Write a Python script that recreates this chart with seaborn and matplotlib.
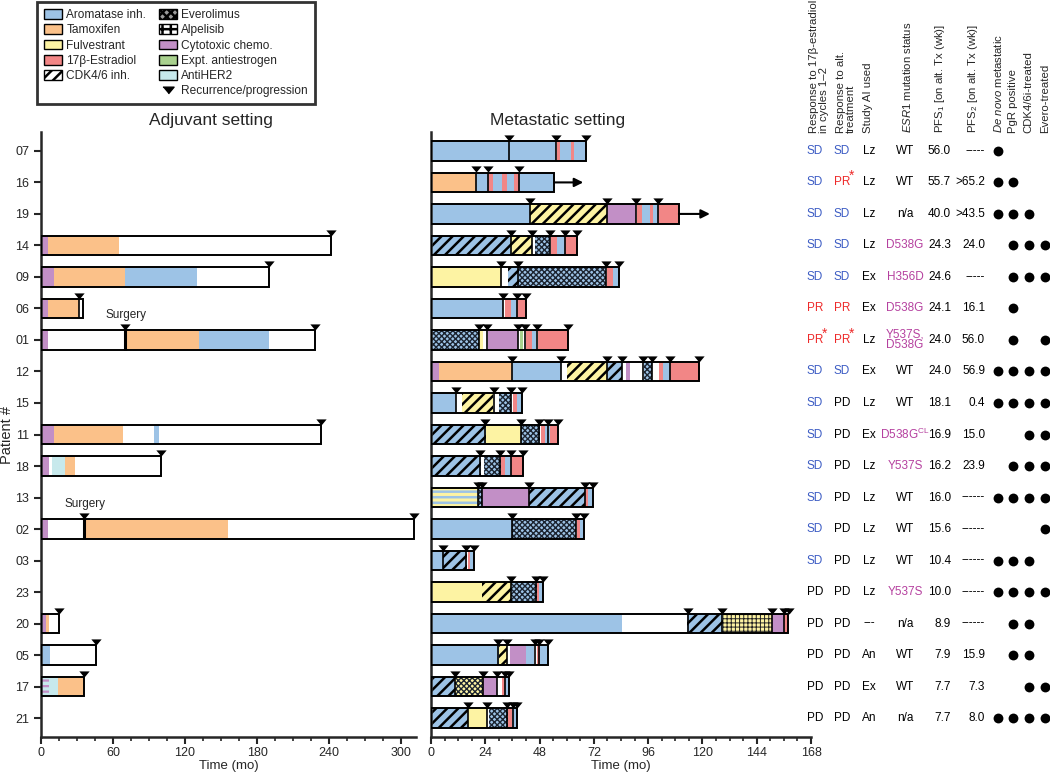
import matplotlib
matplotlib.use("Agg")
import matplotlib.pyplot as plt
import matplotlib.transforms as mtransforms
from matplotlib.patches import Patch
from matplotlib.lines import Line2D
from matplotlib.ticker import MultipleLocator
import seaborn as sns

# ---------------------------------------------------------------- data
patients = ['07', '16', '19', '14', '09', '06', '01', '12', '15', '11',
            '18', '13', '02', '03', '23', '20', '05', '17', '21']

# adjuvant treatment segments (start mo, end mo, treatment)
adjuvant = {
    '14': [(0, 6, 'CHE'), (6, 64.6, 'TAM'), (64.6, 242, 'W')],
    '09': [(0, 10.5, 'CHE'), (10.5, 70, 'TAM'), (70, 130, 'AI'), (130, 190, 'W')],
    '06': [(0, 6, 'CHE'), (6, 32, 'TAM'), (32, 35, 'W')],
    '01': [(0, 5.5, 'CHE'), (5.5, 70, 'W'), (70, 132, 'TAM'), (132, 190, 'AI'), (190, 228, 'W')],
    '11': [(0, 10.8, 'CHE'), (10.8, 68, 'TAM'), (68, 94, 'W'), (94, 98, 'AI'), (98, 233, 'W')],
    '18': [(0, 7, 'CHE'), (7, 9.5, 'W'), (9.5, 20, 'HER'), (20, 28, 'TAM'), (28, 100, 'W')],
    '02': [(0, 5.5, 'CHE'), (5.5, 36, 'W'), (36, 156, 'TAM'), (156, 311, 'W')],
    '20': [(0, 4, 'CHE'), (4, 6.5, 'TAM'), (6.5, 15, 'W')],
    '05': [(0, 7.5, 'AI'), (7.5, 45.5, 'W')],
    '17': [(0, 7, 'HER+CHE'), (7, 14, 'HER'), (14, 35.5, 'TAM')],
}
adjuvant_events = {
    '14': [242], '09': [190], '06': [32], '01': [70, 228], '11': [233],
    '18': [100], '02': [36, 311], '20': [15], '05': [45.5], '17': [35.5],
}
surgery = {'01': 70, '02': 36}

# metastatic treatment segments (start mo, end mo, treatment)
metastatic = {
    '07': [(0, 55.1, 'AI'), (55.1, 55.9, 'W'), (55.9, 57.0, 'E2'), (57.0, 61.7, 'AI'),
           (61.7, 63.4, 'E2'), (63.4, 68.4, 'AI')],
    '16': [(0, 19.7, 'TAM'), (19.7, 25.3, 'AI'), (25.3, 27.4, 'E2'), (27.4, 31.5, 'AI'),
           (31.5, 33.7, 'E2'), (33.7, 36.8, 'AI'), (36.8, 39.0, 'E2'), (39.0, 54.5, 'AI')],
    '19': [(0, 43.8, 'AI'), (43.8, 77.7, 'FUL+CDK'), (77.7, 90.6, 'CHE'), (90.6, 91.2, 'W'),
           (91.2, 93.1, 'E2'), (93.1, 96.8, 'AI'), (96.8, 98.3, 'E2'), (98.3, 100.2, 'AI'),
           (100.2, 109.6, 'E2')],
    '14': [(0, 35.4, 'AI+CDK'), (35.4, 44.8, 'FUL+CDK'), (44.8, 46.0, 'W'), (46.0, 52.5, 'AI+EVE'),
           (52.5, 53.0, 'W'), (53.0, 55.6, 'E2'), (55.6, 59.3, 'AI'), (59.3, 64.6, 'E2')],
    '09': [(0, 30.8, 'FUL'), (30.8, 34.2, 'W'), (34.2, 39.0, 'AI+CDK'), (39.0, 77.2, 'AI+EVE'),
           (77.2, 77.6, 'W'), (77.6, 80.4, 'E2'), (80.4, 83.3, 'AI')],
    '06': [(0, 32.0, 'AI'), (32.0, 32.7, 'W'), (32.7, 35.2, 'E2'), (35.2, 38.2, 'AI'),
           (38.2, 42.0, 'E2')],
    '01': [(0, 21.4, 'AI+EVE'), (21.4, 22.8, 'FUL'), (22.8, 25.0, 'W'), (25.0, 38.5, 'CHE'),
           (38.5, 39.5, 'W'), (39.5, 40.8, 'EXP'), (40.8, 42.0, 'W'), (42.0, 44.5, 'E2'),
           (44.5, 46.5, 'AI'), (46.5, 47.5, 'W'), (47.5, 60.7, 'E2')],
    '12': [(0, 3.7, 'CHE'), (3.7, 35.7, 'TAM'), (35.7, 57.3, 'AI'), (57.3, 60.0, 'W'),
           (60.0, 77.7, 'FUL+CDK'), (77.7, 84.3, 'AI+CDK'), (84.3, 86.2, 'W'), (86.2, 88.0, 'CHE'),
           (88.0, 94.2, 'W'), (94.2, 97.8, 'AI+EVE'), (97.8, 100.8, 'W'), (100.8, 102.7, 'E2'),
           (102.7, 105.7, 'AI'), (105.7, 118.6, 'E2')],
    '15': [(0, 11.1, 'AI'), (11.1, 13.6, 'W'), (13.6, 27.6, 'FUL+CDK'), (27.6, 30.1, 'W'),
           (30.1, 35.4, 'AI+EVE'), (35.4, 36.1, 'W'), (36.1, 37.9, 'E2'), (37.9, 40.4, 'AI')],
    '11': [(0, 24.2, 'AI+CDK'), (24.2, 39.6, 'FUL'), (39.6, 48.2, 'AI+EVE'), (48.2, 48.5, 'W'),
           (48.5, 50.4, 'E2'), (50.4, 52.6, 'AI'), (52.6, 56.0, 'E2')],
    '18': [(0, 22.0, 'AI+CDK'), (22.0, 23.6, 'W'), (23.6, 30.8, 'AI+EVE'), (30.8, 32.7, 'E2'),
           (32.7, 35.2, 'AI'), (35.2, 40.8, 'E2')],
    '13': [(0, 20.9, 'FUL+AI'), (20.9, 22.7, 'AI+EVE'), (22.7, 43.5, 'CHE'), (43.5, 68.1, 'AI+CDK'),
           (68.1, 69.3, 'E2'), (69.3, 71.8, 'AI')],
    '02': [(0, 36.0, 'AI'), (36.0, 64.1, 'AI+EVE'), (64.1, 64.5, 'W'), (64.5, 66.0, 'E2'),
           (66.0, 67.6, 'AI')],
    '03': [(0, 5.2, 'AI'), (5.2, 15.8, 'AI+CDK'), (15.8, 16.2, 'W'), (16.2, 17.3, 'E2'),
           (17.3, 19.0, 'AI')],
    '23': [(0, 22.4, 'FUL'), (22.4, 35.2, 'FUL+CDK'), (35.2, 46.7, 'AI+EVE'), (46.7, 47.8, 'E2'),
           (47.8, 49.4, 'AI')],
    '20': [(0, 84.6, 'AI'), (84.6, 113.3, 'W'), (113.3, 129.3, 'AI+CDK'), (129.3, 150.6, 'FUL+ALP'),
           (150.6, 156.1, 'CHE'), (156.1, 158.0, 'E2')],
    '05': [(0, 30.1, 'AI'), (30.1, 33.7, 'FUL+CDK'), (33.7, 35.0, 'W'), (35.0, 42.0, 'CHE'),
           (42.0, 45.7, 'AI'), (45.7, 46.7, 'W'), (46.7, 48.2, 'E2'), (48.2, 51.9, 'AI')],
    '17': [(0, 10.6, 'AI+CDK'), (10.6, 23.1, 'FUL+EVE'), (23.1, 29.3, 'CHE'), (29.3, 31.2, 'W'),
           (31.2, 32.7, 'E2'), (32.7, 34.6, 'AI')],
    '21': [(0, 16.5, 'AI+CDK'), (16.5, 24.6, 'FUL'), (24.6, 25.8, 'W'), (25.8, 34.2, 'AI+EVE'),
           (34.2, 35.7, 'E2'), (35.7, 37.9, 'AI')],
}
metastatic_events = {
    '07': [34.5, 55.1, 68.4], '16': [20.0, 25.2, 39.0], '19': [43.8, 77.7, 90.6, 100.2],
    '14': [35.2, 44.8, 52.5, 59.3, 64.6], '09': [30.8, 38.3, 77.2, 83.3],
    '06': [32.0, 37.9, 42.0], '01': [21.4, 24.6, 38.5, 41.7, 47.0, 60.7],
    '12': [35.7, 57.3, 77.9, 84.3, 93.6, 97.8, 105.7, 118.6], '15': [11.1, 27.7, 35.3, 40.4],
    '11': [24.0, 39.6, 47.9, 51.9, 56.0], '18': [21.8, 30.5, 35.2, 40.8],
    '13': [20.9, 22.7, 43.5, 68.1, 71.8], '02': [35.7, 63.9, 67.6], '03': [5.2, 15.5, 18.9],
    '23': [35.2, 46.4, 49.6], '20': [113.5, 128.5, 150.6, 156.0, 158.2],
    '05': [29.5, 33.7, 46.0, 47.7, 51.7], '17': [10.6, 23.1, 29.3, 32.7, 34.6],
    '21': [16.3, 24.6, 33.8, 36.4, 37.9],
}
ongoing = {'16': 67.3, '19': 123.3}

# table columns (same order as patients)
resp_e2 = ['SD', 'SD', 'SD', 'SD', 'SD', 'PR', 'PR*', 'SD', 'SD', 'SD',
           'SD', 'SD', 'SD', 'SD', 'PD', 'PD', 'PD', 'PD', 'PD']
resp_alt = ['SD', 'PR*', 'SD', 'SD', 'SD', 'PR', 'PR*', 'SD', 'PD', 'PD',
            'PD', 'PD', 'PD', 'PD', 'PD', 'PD', 'PD', 'PD', 'PD']
study_ai = ['Lz', 'Lz', 'Lz', 'Lz', 'Ex', 'Ex', 'Lz', 'Ex', 'Lz', 'Ex',
            'Lz', 'Lz', 'Lz', 'Lz', 'Lz', '---', 'An', 'Ex', 'An']
esr1 = ['WT', 'WT', 'n/a', 'D538G', 'H356D', 'D538G', 'Y537S,\nD538G', 'WT', 'WT', 'D538G$^{\\rm CL}$',
        'Y537S', 'WT', 'WT', 'WT', 'Y537S', 'n/a', 'WT', 'WT', 'n/a']
pfs1 = ['56.0', '55.7', '40.0', '24.3', '24.6', '24.1', '24.0', '24.0', '18.1', '16.9',
        '16.2', '16.0', '15.6', '10.4', '10.0', '8.9', '7.9', '7.7', '7.7']
pfs2 = ['-----', '>65.2', '>43.5', '24.0', '-----', '16.1', '56.0', '56.9', '0.4', '15.0',
        '23.9', '------', '------', '------', '------', '------', '15.9', '7.3', '8.0']
de_novo = [1, 1, 1, 0, 0, 0, 0, 1, 1, 0, 0, 1, 0, 1, 1, 0, 0, 0, 1]
pgr_pos = [0, 1, 1, 1, 1, 1, 1, 1, 1, 0, 1, 1, 0, 1, 1, 1, 1, 0, 1]
cdk_treated = [0, 0, 1, 1, 1, 0, 0, 1, 1, 1, 1, 1, 0, 1, 1, 1, 1, 1, 1]
evero_treated = [0, 0, 0, 1, 1, 0, 1, 1, 1, 1, 1, 1, 1, 0, 1, 0, 0, 1, 1]

# ---------------------------------------------------------------- styling
blue, orange, yellow, red = '#9dc3e6', '#fbc189', '#fdf3a3', '#f28686'
purple, green, cyan = '#c28fc6', '#a9d18e', '#c7e9ec'

# treatment -> (face, hatch, hatch colour, hatch width)
styles = {
    'W': ('white', None, None, 0),
    'AI': (blue, None, None, 0),
    'TAM': (orange, None, None, 0),
    'FUL': (yellow, None, None, 0),
    'E2': (red, None, None, 0),
    'CHE': (purple, None, None, 0),
    'EXP': (green, None, None, 0),
    'HER': (cyan, None, None, 0),
    'AI+CDK': (blue, '///', 'black', 1.8),
    'FUL+CDK': (yellow, '///', 'black', 1.8),
    'AI+EVE': (blue, 'xxxxxx', '#1c2430', 1.0),
    'FUL+EVE': (yellow, 'xxxxxx', '#1c2430', 1.0),
    'FUL+ALP': (yellow, '++++', '#222222', 0.7),
    'FUL+AI': (yellow, '---', blue, 1.8),
    'HER+CHE': (cyan, '---', purple, 1.6),
}
status_colors = {'SD': '#3c5cc4', 'PR': '#ee2a2a', 'PR*': '#ee2a2a', 'PD': 'black'}
mut_color = '#b5409f'

tri = [(-1, 0.6), (1, 0.6), (0, -0.6)]
H = 0.62

sns.set_theme(style='ticks')
plt.rcParams['font.family'] = ['Liberation Sans', 'DejaVu Sans']
plt.rcParams.update({
    'mathtext.fontset': 'custom',
    'mathtext.rm': 'Liberation Sans',
    'mathtext.it': 'Liberation Sans:italic',
    'mathtext.bf': 'Liberation Sans:bold',
    'hatch.linewidth': 1.8,
    'axes.linewidth': 1.8,
    'xtick.major.width': 1.5,
    'ytick.major.width': 1.5,
    'xtick.minor.width': 1.2,
    'xtick.major.size': 5,
    'xtick.minor.size': 3,
    'ytick.major.size': 5,
})


def draw_patient(ax, row, segments, events):
    for start, end, code in segments:
        face, hatch, hcol, hlw = styles[code]
        with plt.rc_context({'hatch.linewidth': hlw if hatch else 1.0}):
            bars = ax.barh(row, end - start, left=start, height=H, color=face,
                           hatch=hatch, edgecolor=hcol if hatch else face,
                           linewidth=0, zorder=2)
        if hatch:
            for p in bars:
                if hasattr(p, 'set_hatch_linewidth'):
                    p.set_hatch_linewidth(hlw)
    total = segments[-1][1]
    ax.barh(row, total, left=0, height=H, fill=False, edgecolor='black',
            linewidth=1.4, zorder=3)
    inner = [e for e in events if e < total - 0.6]
    ax.vlines(inner, row - H / 2, row + H / 2, color='black', linewidth=1.2, zorder=3)
    ax.scatter(events, [row - H / 2 - 0.1] * len(events), marker=tri, s=55,
               color='black', linewidths=0, zorder=4, clip_on=False)


fig = plt.figure(figsize=(10.5, 7.78), dpi=100)
W, Hpx = 1050, 778
ax_adj = fig.add_axes([41 / W, 1 - 737 / Hpx, 375 / W, 605 / Hpx])
ax_met = fig.add_axes([431 / W, 1 - 737 / Hpx, 380 / W, 605 / Hpx])

for pid, segs in adjuvant.items():
    draw_patient(ax_adj, patients.index(pid), segs, adjuvant_events[pid])
for pid, t in surgery.items():
    r = patients.index(pid)
    ax_adj.vlines(t, r - H / 2, r + H / 2, color='black', linewidth=2.2, zorder=3)
    ax_adj.text(t + 1, r - 0.8, 'Surgery', ha='center', va='center', fontsize=8.5)

for pid, segs in metastatic.items():
    draw_patient(ax_met, patients.index(pid), segs, metastatic_events[pid])
for pid, t in ongoing.items():
    r = patients.index(pid)
    ax_met.annotate('', xy=(t, r), xytext=(metastatic[pid][-1][1], r),
                    arrowprops=dict(arrowstyle='-|>', color='black', lw=1.5,
                                    mutation_scale=13, shrinkA=0, shrinkB=0))

for ax in (ax_adj, ax_met):
    ax.set_ylim(len(patients) - 0.4, -0.6)
    sns.despine(ax=ax)
    ax.tick_params(axis='x', labelsize=9, pad=2, which='both', direction='out')
    ax.set_xlabel('Time (mo)', fontsize=9.5, labelpad=1)

ax_adj.set_xlim(0, 312.5)
ax_adj.xaxis.set_major_locator(MultipleLocator(60))
ax_adj.xaxis.set_minor_locator(MultipleLocator(15))
ax_adj.set_yticks(range(len(patients)))
ax_adj.set_yticklabels(patients, fontsize=9)
ax_adj.set_ylabel('Patient #', fontsize=10.5, labelpad=1)

ax_met.set_xlim(0, 168)
ax_met.xaxis.set_major_locator(MultipleLocator(24))
ax_met.xaxis.set_minor_locator(MultipleLocator(6))
ax_met.set_yticks([])

fig.text(211 / W, 1 - 121 / Hpx, 'Adjuvant setting', ha='center', va='center', fontsize=12.5)
fig.text(558 / W, 1 - 121 / Hpx, 'Metastatic setting', ha='center', va='center', fontsize=12.5)

# ---------------------------------------------------------------- table
trans = mtransforms.blended_transform_factory(fig.transFigure, ax_met.transData)


def cell(x, row, txt, color='black', ha='center'):
    star = txt.endswith('*')
    ax_met.text(x / W, row, txt.rstrip('*'), transform=trans, ha=ha, va='center',
                fontsize=8.5, color=color, clip_on=False, linespacing=0.85)
    if star:
        ax_met.text((x + 7) / W, row - 0.2, '*', transform=trans, ha='left',
                    va='center', fontsize=10, color=color, clip_on=False)


for i in range(len(patients)):
    cell(815, i, resp_e2[i], status_colors[resp_e2[i]])
    cell(842, i, resp_alt[i], status_colors[resp_alt[i]])
    cell(869, i, study_ai[i])
    mcol = 'black' if esr1[i] in ('WT', 'n/a') else mut_color
    cell(905, i, esr1[i], mcol)
    cell(951, i, pfs1[i], ha='right')
    cell(985, i, pfs2[i], ha='right')

for flags, x in ((de_novo, 998), (pgr_pos, 1013), (cdk_treated, 1029), (evero_treated, 1045)):
    rows = [i for i, f in enumerate(flags) if f]
    ax_met.scatter([x / W] * len(rows), rows, s=50, color='black', transform=trans,
                   clip_on=False, linewidths=0, zorder=5)

headers = [
    (819, 'Response to 17\u03b2-estradiol\nin cycles 1\u20132'),
    (846, 'Response to alt.\ntreatment'),
    (868, 'Study AI used'),
    (907, '$\\mathit{ESR1}$ mutation status'),
    (940, 'PFS$_1$ [on alt. Tx (wk)]'),
    (973, 'PFS$_2$ [on alt. Tx (wk)]'),
    (998, '$\\mathit{De\\ novo}$ metastatic'),
    (1013, 'PgR positive'),
    (1028, 'CDK4/6i-treated'),
    (1045, 'Evero-treated'),
]
for x, txt in headers:
    fig.text(x / W, 1 - 133 / Hpx, txt, rotation=90, ha='center', va='bottom',
             fontsize=8.2, multialignment='left', linespacing=1.0)

# ---------------------------------------------------------------- legend
handles = [
    Patch(facecolor=blue, edgecolor='black', label='Aromatase inh.'),
    Patch(facecolor=orange, edgecolor='black', label='Tamoxifen'),
    Patch(facecolor=yellow, edgecolor='black', label='Fulvestrant'),
    Patch(facecolor=red, edgecolor='black', label='17\u03b2-Estradiol'),
    Patch(facecolor='white', edgecolor='black', hatch='///', label='CDK4/6 inh.'),
    Patch(facecolor='none', edgecolor='none', label=' '),
    Patch(facecolor='#9a9a9a', edgecolor='black', hatch='xxxx', label='Everolimus'),
    Patch(facecolor='white', edgecolor='black', hatch='++', label='Alpelisib'),
    Patch(facecolor=purple, edgecolor='black', label='Cytotoxic chemo.'),
    Patch(facecolor=green, edgecolor='black', label='Expt. antiestrogen'),
    Patch(facecolor=cyan, edgecolor='black', label='AntiHER2'),
    Line2D([], [], marker=tri, color='black', linestyle='none', markersize=8,
           label='Recurrence/progression'),
]
leg = fig.legend(handles=handles, ncol=2, loc='upper left',
                 bbox_to_anchor=(37 / W, 1 - 2 / Hpx), fontsize=8.6, frameon=True,
                 fancybox=False, edgecolor='black', handlelength=1.5, handleheight=0.9,
                 labelspacing=0.26, columnspacing=1.1, handletextpad=0.35,
                 borderpad=0.6, borderaxespad=0)
leg.get_frame().set_linewidth(2)

fig.savefig('out.png', dpi=100)
